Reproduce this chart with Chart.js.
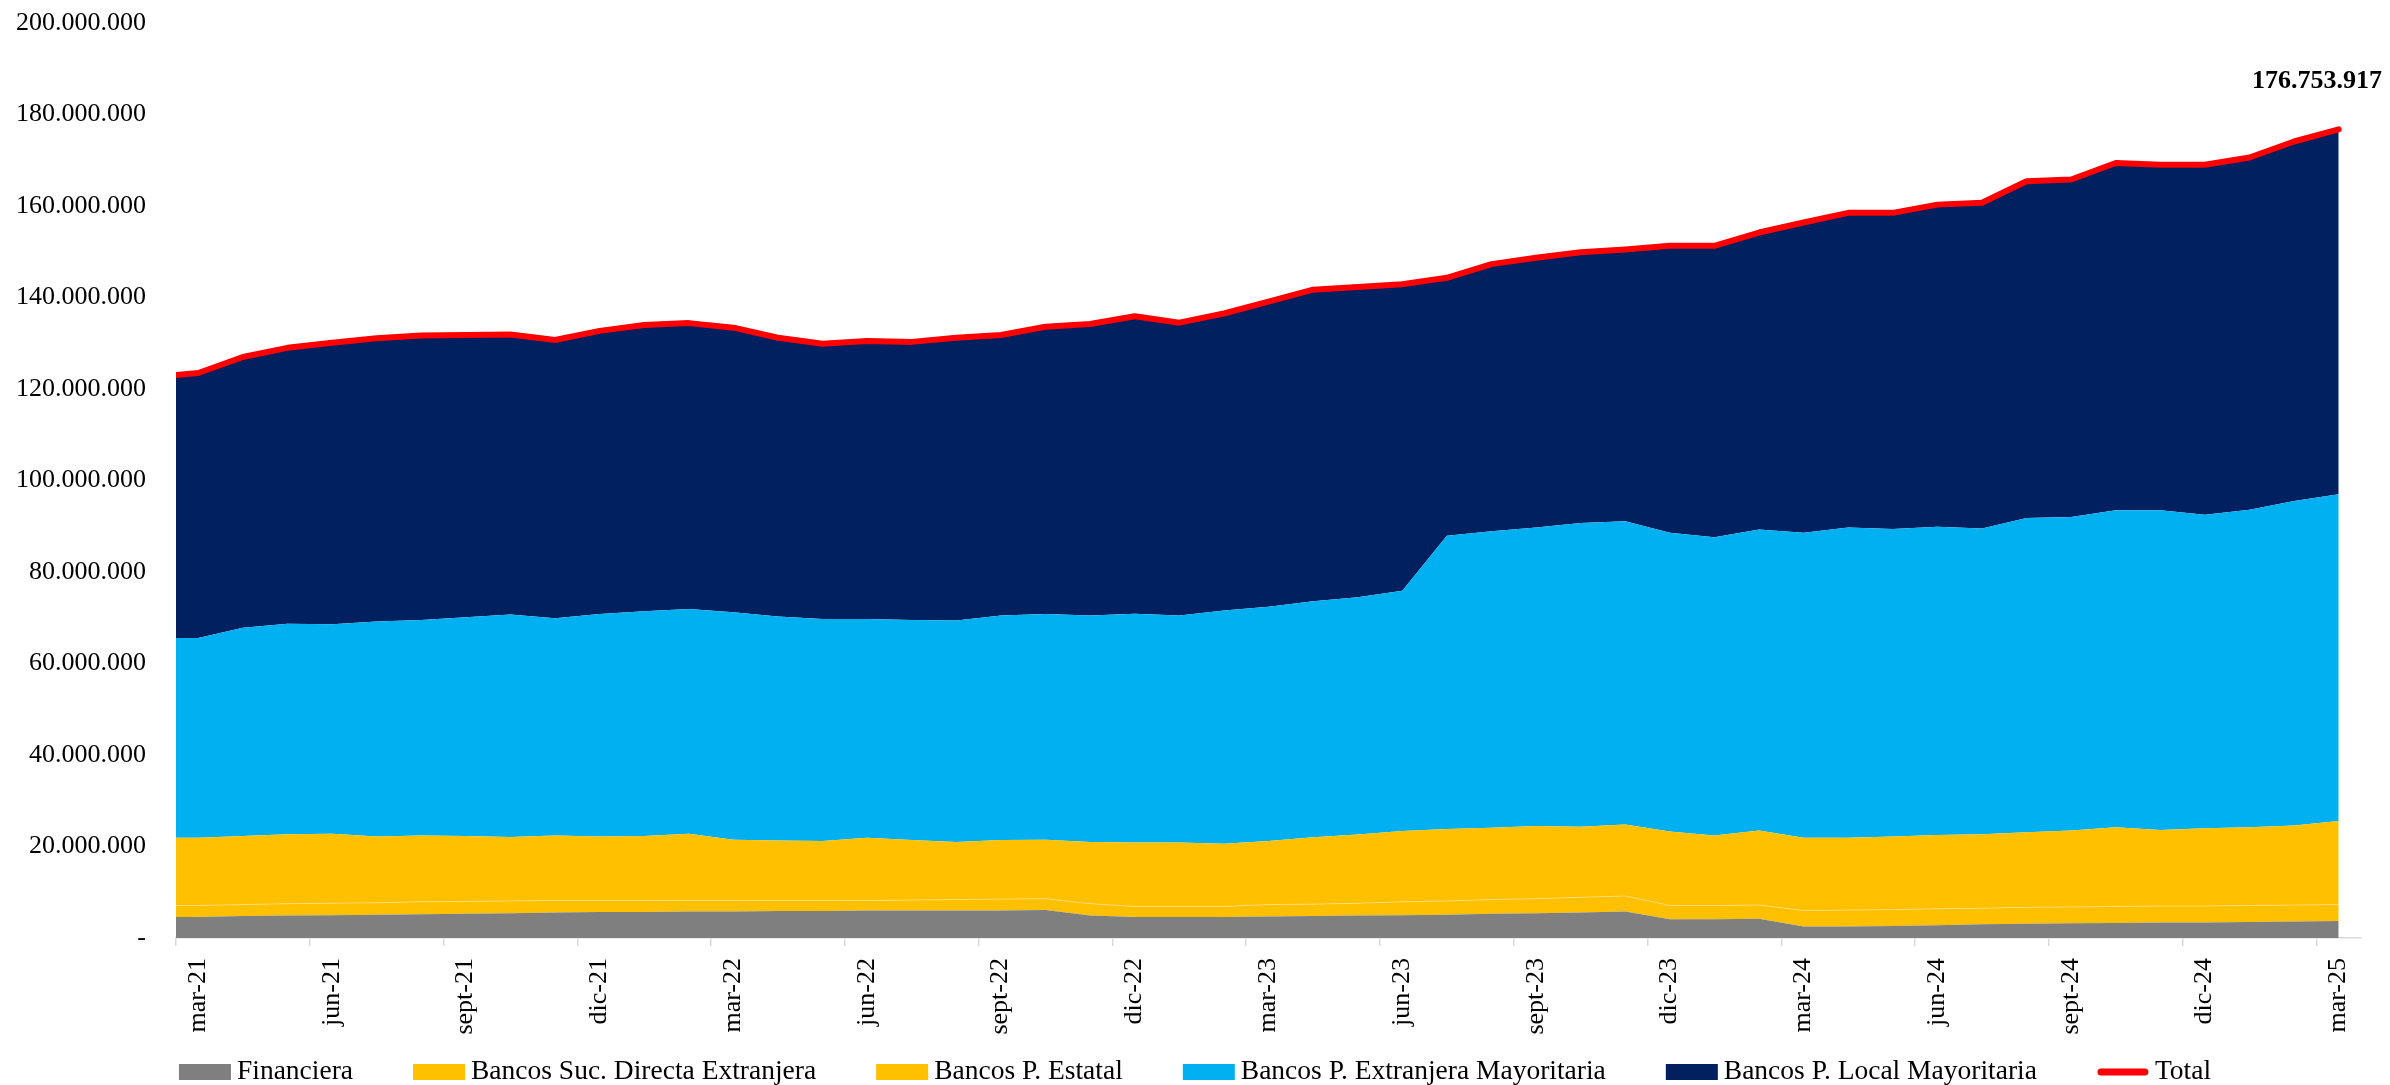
<!DOCTYPE html>
<html>
<head>
<meta charset="utf-8">
<script src="https://cdn.jsdelivr.net/npm/chart.js@4.4.1/dist/chart.umd.min.js"></script>
<style>
  html, body { margin: 0; padding: 0; background: #ffffff; }
  #wrap { width: 2390px; height: 1085px; }
</style>
</head>
<body>
<div id="wrap"><canvas id="chart" width="2390" height="1085"></canvas></div>
<script>
// Values in millions of pesos; one entry per month (feb-21 .. mar-25)
const UNIT = 1e6;

const months = [
  'feb-21', 'mar-21', 'abr-21', 'may-21', 'jun-21', 'jul-21', 'ago-21', 'sept-21', 'oct-21', 'nov-21', 'dic-21',
  'ene-22', 'feb-22', 'mar-22', 'abr-22', 'may-22', 'jun-22', 'jul-22', 'ago-22', 'sept-22', 'oct-22', 'nov-22', 'dic-22',
  'ene-23', 'feb-23', 'mar-23', 'abr-23', 'may-23', 'jun-23', 'jul-23', 'ago-23', 'sept-23', 'oct-23', 'nov-23', 'dic-23',
  'ene-24', 'feb-24', 'mar-24', 'abr-24', 'may-24', 'jun-24', 'jul-24', 'ago-24', 'sept-24', 'oct-24', 'nov-24', 'dic-24',
  'ene-25', 'feb-25', 'mar-25'
];

const axisLabels = [
  'mar-21', 'jun-21', 'sept-21', 'dic-21', 'mar-22', 'jun-22', 'sept-22', 'dic-22',
  'mar-23', 'jun-23', 'sept-23', 'dic-23', 'mar-24', 'jun-24', 'sept-24', 'dic-24', 'mar-25'
];

const seriesNames = [
  'Financiera',
  'Bancos Suc. Directa Extranjera',
  'Bancos P. Estatal',
  'Bancos P. Extranjera Mayoritaria',
  'Bancos P. Local Mayoritaria',
  'Total'
];

const financiera = [
  4.6, 4.6, 4.8, 4.9, 5.0, 5.1, 5.2, 5.3, 5.4, 5.6, 5.7,
  5.7, 5.8, 5.8, 5.9, 5.9, 6.0, 6.0, 6.0, 6.0, 6.1, 4.9, 4.6,
  4.6, 4.6, 4.7, 4.8, 4.9, 5.0, 5.1, 5.3, 5.4, 5.6, 5.8, 4.1,
  4.1, 4.2, 2.5, 2.5, 2.6, 2.8, 3.0, 3.1, 3.2, 3.3, 3.4, 3.4,
  3.5, 3.6, 3.7
];

const sucDirecta = [
  2.5, 2.5, 2.5, 2.6, 2.6, 2.6, 2.7, 2.7, 2.7, 2.6, 2.5,
  2.5, 2.4, 2.4, 2.3, 2.3, 2.2, 2.3, 2.4, 2.5, 2.5, 2.6, 2.3,
  2.3, 2.3, 2.6, 2.6, 2.7, 2.9, 3.0, 3.1, 3.2, 3.3, 3.4, 3.0,
  3.0, 3.0, 3.5, 3.6, 3.6, 3.6, 3.5, 3.6, 3.6, 3.6, 3.6, 3.6,
  3.6, 3.6, 3.6
];

const estatal = [
  14.8, 14.8, 15.0, 15.2, 15.2, 14.5, 14.5, 14.3, 14.0, 14.2, 14.0,
  14.1, 14.6, 13.3, 13.1, 13.0, 13.7, 13.1, 12.6, 12.9, 12.9, 13.5, 14.0,
  14.0, 13.7, 13.9, 14.6, 15.0, 15.5, 15.7, 15.7, 15.9, 15.4, 15.6, 16.2,
  15.3, 16.3, 15.9, 15.8, 16.0, 16.1, 16.2, 16.4, 16.7, 17.3, 16.6, 17.0,
  17.1, 17.4, 18.3
];

const extranjera = [
  43.7, 43.7, 45.5, 46.0, 45.8, 47.0, 47.1, 47.8, 48.6, 47.5, 48.6,
  49.1, 49.1, 49.7, 49.0, 48.5, 47.8, 48.1, 48.4, 49.1, 49.3, 49.5, 50.0,
  49.6, 51.0, 51.2, 51.6, 51.9, 52.5, 64.1, 64.8, 65.2, 66.4, 66.3, 65.3,
  65.2, 65.8, 66.7, 67.8, 67.2, 67.4, 66.8, 68.7, 68.5, 69.3, 69.9, 68.5,
  69.4, 70.9, 71.4
];

const local = [
  57.0, 57.9, 59.2, 60.3, 61.5, 61.9, 62.2, 61.7, 61.2, 60.8, 61.9,
  62.6, 62.5, 62.2, 60.9, 60.2, 60.8, 60.8, 61.8, 61.3, 62.8, 63.7, 65.0,
  64.0, 64.9, 66.7, 68.1, 67.8, 67.0, 56.4, 58.4, 59.0, 59.2, 59.4, 62.7,
  63.7, 64.9, 67.8, 68.8, 69.1, 70.4, 71.2, 73.6, 73.8, 75.9, 75.5, 76.5,
  77.0, 78.6, 79.753917
];

const areaSeries = [financiera, sucDirecta, estatal, extranjera, local];
const areaColors = ['#7F7F7F', '#FFC000', '#FFC000', '#00B0F0', '#002060'];
const totalColor = '#FF0000';

// Total of all groups, in pesos
const total = months.map((_, i) =>
  Math.round(areaSeries.reduce((s, arr) => s + arr[i], 0) * UNIT)
);

const SERIF = '"Liberation Serif", "Times New Roman", serif';

function fmtThousands(v) {
  return String(Math.round(v)).replace(/\B(?=(\d{3})+(?!\d))/g, '.');
}

const datasets = areaSeries.map((arr, si) => ({
  label: seriesNames[si],
  data: arr.map((v, k) => ({ x: k, y: v * UNIT })),
  backgroundColor: areaColors[si],
  borderColor: si === 1 ? 'rgba(255, 228, 160, 0.6)' : 'rgba(0,0,0,0)',
  borderWidth: si === 1 ? 1 : 0,
  fill: si === 0 ? 'origin' : '-1',
  pointRadius: 0,
  tension: 0,
  stack: 'groups',
  order: 1
}));

datasets.push({
  label: seriesNames[5],
  data: total.map((v, k) => ({ x: k, y: v })),
  borderColor: totalColor,
  backgroundColor: totalColor,
  borderWidth: 6,
  borderCapStyle: 'round',
  borderJoinStyle: 'round',
  fill: false,
  pointRadius: 0,
  tension: 0,
  stack: 'total',
  order: 0
});

// Bold value of the last total point
const lastTotalLabel = {
  id: 'lastTotalLabel',
  afterDatasetsDraw(chart) {
    const meta = chart.getDatasetMeta(5);
    const pt = meta.data[meta.data.length - 1];
    if (!pt) return;
    const ctx = chart.ctx;
    const text = fmtThousands(total[total.length - 1]);
    ctx.save();
    ctx.font = 'bold 26px ' + SERIF;
    ctx.fillStyle = '#000000';
    ctx.textAlign = 'center';
    ctx.textBaseline = 'middle';
    const w = ctx.measureText(text).width;
    const cx = Math.min(pt.x, chart.width - 8 - w / 2);
    ctx.fillText(text, cx, pt.y - 48);
    ctx.restore();
  }
};

// Single-row legend under the axis
const bottomLegend = {
  id: 'bottomLegend',
  afterDraw(chart) {
    const ctx = chart.ctx;
    const boxW = 52, boxH = 16, textGap = 6, itemGap = 60;
    ctx.save();
    ctx.font = '27.5px ' + SERIF;
    ctx.textBaseline = 'middle';
    ctx.textAlign = 'left';
    const items = chart.data.datasets.map(ds => ({ ds, w: ctx.measureText(ds.label).width }));
    const rowW = items.reduce((s, it) => s + boxW + textGap + it.w, 0) + itemGap * (items.length - 1);
    let x = (chart.width - rowW) / 2;
    const cy = chart.height - 13;
    items.forEach(it => {
      if (it.ds.fill === false) {
        ctx.strokeStyle = it.ds.borderColor;
        ctx.lineWidth = 7;
        ctx.lineCap = 'round';
        ctx.beginPath();
        ctx.moveTo(x + 4, cy);
        ctx.lineTo(x + boxW - 4, cy);
        ctx.stroke();
      } else {
        ctx.fillStyle = it.ds.backgroundColor;
        ctx.fillRect(x, cy - boxH / 2, boxW, boxH);
      }
      ctx.fillStyle = '#000000';
      ctx.fillText(it.ds.label, x + boxW + textGap, cy);
      x += boxW + textGap + it.w + itemGap;
    });
    ctx.restore();
  }
};

new Chart(document.getElementById('chart'), {
  type: 'line',
  data: { datasets },
  plugins: [lastTotalLabel, bottomLegend],
  options: {
    responsive: false,
    devicePixelRatio: 1,
    animation: false,
    layout: { padding: { top: 23, right: 29, bottom: 50, left: 0 } },
    plugins: {
      legend: { display: false },
      tooltip: { enabled: false }
    },
    scales: {
      x: {
        type: 'linear',
        min: 0.5,
        max: months.length - 0.5,
        afterBuildTicks: (scale) => {
          scale.ticks = axisLabels.map(l => ({ value: months.indexOf(l) - 0.5 }));
        },
        afterFit: (scale) => { scale.height = 97; },
        ticks: {
          autoSkip: false,
          minRotation: 90,
          maxRotation: 90,
          labelOffset: 22,
          padding: 12,
          color: '#000000',
          font: { family: SERIF, size: 26 },
          callback: (v) => months[Math.round(v + 0.5)]
        },
        grid: {
          drawOnChartArea: false,
          drawTicks: true,
          tickLength: 8,
          color: '#D9D9D9',
          lineWidth: 1.5
        },
        border: { display: true, color: '#D9D9D9', width: 1.5 }
      },
      y: {
        stacked: true,
        min: 0,
        max: 200 * UNIT,
        afterFit: (scale) => { scale.width = 176; },
        // invisible tick marks keep the labels clear of the plot
        grid: { display: false, drawTicks: true, tickLength: 30 },
        border: { display: false },
        ticks: {
          stepSize: 20 * UNIT,
          padding: 0,
          color: '#000000',
          font: { family: SERIF, size: 26 },
          callback: (v) => (v === 0 ? '-' : fmtThousands(v))
        }
      }
    }
  }
});
</script>
</body>
</html>
